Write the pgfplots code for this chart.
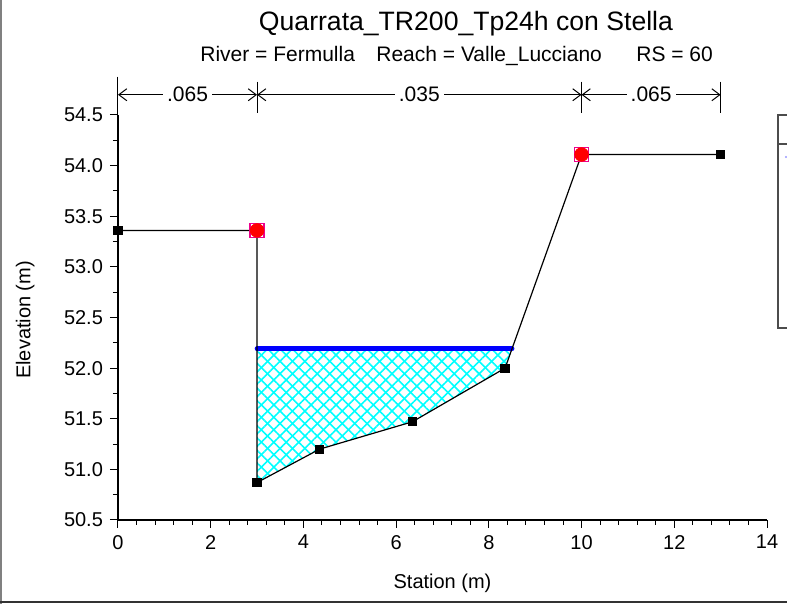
\documentclass[border=0pt]{standalone}
\usepackage{fontspec}
\setmainfont{Liberation Sans}
\usepackage{pgfplots}
\pgfplotsset{compat=1.18}
\usetikzlibrary{patterns.meta,arrows.meta}

\begin{document}
\begin{tikzpicture}
% titles
\node[font=\fontsize{13.3}{16}\selectfont, anchor=base] at (233pt,286.5pt) {Quarrata\_TR200\_Tp24h con Stella};
\node[font=\fontsize{10.5}{12}\selectfont, anchor=base west, inner sep=0pt] at (100pt,271pt) {River = Fermulla};
\node[font=\fontsize{10.5}{12}\selectfont, anchor=base west, inner sep=0pt] at (188pt,271pt) {Reach = Valle\_Lucciano};
\node[font=\fontsize{10.5}{12}\selectfont, anchor=base west, inner sep=0pt] at (318pt,271pt) {RS = 60};

\begin{axis}[
 at={(59pt,42pt)}, anchor=south west,
 scale only axis, width=324.5pt, height=202.5pt,
 xmin=0, xmax=14, ymin=50.5, ymax=54.5,
 axis x line*=bottom, axis y line*=left,
 axis line style={line width=0.6pt},
 xtick={0,2,4,6,8,10,12,14},
 ytick={50.5,51,51.5,52,52.5,53,53.5,54,54.5},
 minor x tick num=4, minor y tick num=1,
 tick align=outside,
 major tick length=4pt, minor tick length=2.5pt,
 tick style={black, line width=0.5pt},
 ticklabel style={font=\fontsize{10}{12}\selectfont},
 /pgf/number format/assume math mode=true,
 y tick label style={/pgf/number format/.cd, fixed, fixed zerofill, precision=1},
 xlabel={Station (m)}, ylabel={Elevation (m)},
 label style={font=\fontsize{10}{12}\selectfont},
 xlabel style={at={(axis description cs:0.5,-0.156)}, anchor=center},
 ylabel style={at={(axis description cs:-0.143,0.494)}, anchor=center},
 clip=false,
]
% wetted area
\addplot[draw=none, pattern={Lines[angle=45,distance=4.4pt,line width=0.8pt]}, pattern color=cyan]
 coordinates {(3,52.19) (8.5,52.19) (8.35,52.0) (6.35,51.47) (4.35,51.2) (3,50.87)} -- cycle;
\addplot[draw=none, pattern={Lines[angle=-45,distance=4.4pt,line width=0.8pt]}, pattern color=cyan]
 coordinates {(3,52.19) (8.5,52.19) (8.35,52.0) (6.35,51.47) (4.35,51.2) (3,50.87)} -- cycle;
% water surface
\addplot[blue, line width=2.4pt, line cap=round] coordinates {(3,52.19) (8.5,52.19)};
% ground
\addplot[black, line width=0.6pt, mark=square*, mark size=2pt, mark options={fill=black, solid}]
 coordinates {(0,53.36) (3,53.36) (3,50.87) (4.35,51.2) (6.35,51.47) (8.35,52.0) (10,54.11) (13,54.11)};
% bank stations
\addplot[only marks, mark=square, mark size=3.5pt, mark options={draw=magenta, line width=0.6pt}]
 coordinates {(3,53.36) (10,54.11)};
\addplot[only marks, mark=*, mark size=3.4pt, mark options={fill=red, draw=red}]
 coordinates {(3,53.36) (10,54.11)};
% Manning n annotations
\draw[line width=0.5pt] (axis cs:0,54.88) -- (axis cs:0,54.5);
\draw[line width=0.5pt] (axis cs:3,54.83) -- (axis cs:3,54.52);
\draw[line width=0.5pt] (axis cs:10,54.83) -- (axis cs:10,54.52);
\draw[line width=0.5pt] (axis cs:13,54.83) -- (axis cs:13,54.52);
\draw[{Straight Barb[length=4pt,width=6pt]}-{Straight Barb[length=4pt,width=6pt]}, line width=0.5pt]
 (axis cs:0,54.70) -- node[fill=white, inner sep=2pt, font=\fontsize{10.5}{12}\selectfont] {.065} (axis cs:3,54.70);
\draw[{Straight Barb[length=4pt,width=6pt]}-{Straight Barb[length=4pt,width=6pt]}, line width=0.5pt]
 (axis cs:3,54.70) -- node[fill=white, inner sep=2pt, font=\fontsize{10.5}{12}\selectfont] {.035} (axis cs:10,54.70);
\draw[{Straight Barb[length=4pt,width=6pt]}-{Straight Barb[length=4pt,width=6pt]}, line width=0.5pt]
 (axis cs:10,54.70) -- node[fill=white, inner sep=2pt, font=\fontsize{10.5}{12}\selectfont] {.065} (axis cs:13,54.70);
\end{axis}

% legend box (cut off at the right edge)
\draw[black!70, line width=0.6pt] (420pt,244.5pt) -- (389pt,244.5pt) -- (389pt,138pt) -- (420pt,138pt);
\draw[black!70, line width=0.6pt] (389pt,230pt) -- (420pt,230pt);
\fill[blue!40] (393pt,223.5pt) circle (0.6pt);
% window frame
\draw[gray, line width=1pt] (0.5pt,0pt) -- (0.5pt,302pt);
\draw[black!80, line width=1pt] (0pt,1.2pt) -- (400pt,1.2pt);

\pgfresetboundingbox
\path[use as bounding box] (0,0) rectangle (393.5pt,302pt);
\end{tikzpicture}
\end{document}
